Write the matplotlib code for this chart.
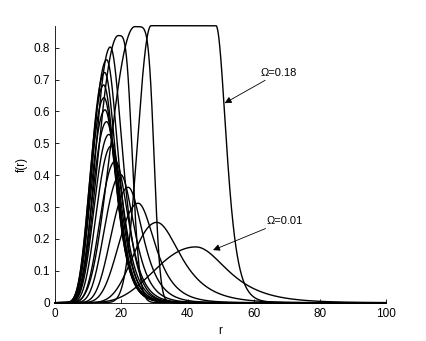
import numpy as np
import matplotlib
matplotlib.use('Agg')
import matplotlib.pyplot as plt

plt.rcParams['font.family'] = ['Liberation Sans', 'DejaVu Sans']

# Omega values of the family of profiles
omega = [0.01, 0.02, 0.03, 0.04, 0.05, 0.06, 0.07, 0.08, 0.09,
         0.10, 0.11, 0.12, 0.13, 0.14, 0.15, 0.16, 0.17, 0.18]
# peak height
peak_f = [0.175, 0.252, 0.312, 0.362, 0.402, 0.444, 0.492, 0.528, 0.568,
          0.605, 0.643, 0.683, 0.722, 0.762, 0.802, 0.838, 0.866, 0.869]
# r where the top starts / ends (equal for single peaks)
top_start = [42.5, 30.7, 25.1, 22.1, 19.8, 18.2, 17.0, 16.3, 15.6,
             15.1, 14.8, 14.7, 15.0, 15.6, 16.7, 19.1, 24.1, 29.0]
top_end = [42.5, 30.7, 25.1, 22.1, 19.8, 18.2, 17.0, 16.3, 15.6,
           15.1, 14.8, 14.7, 15.0, 15.6, 16.7, 19.1, 24.1, 48.6]
# half width at half maximum, left and right of the top
hw_left = [13.9, 8.0, 6.6, 5.8, 5.4, 5.2, 5.0, 4.9, 4.8,
           4.7, 4.6, 4.6, 4.7, 4.8, 5.0, 6.5, 8.0, 4.6]
hw_right = [11.2, 8.5, 6.0, 5.2, 4.8, 4.6, 4.4, 4.3, 4.2,
            4.2, 4.2, 4.2, 4.2, 4.2, 4.3, 4.4, 5.9, 3.6]
# decay shape of the right flank
tail_p = [1.0, 0.9, 1.0, 1.1, 1.2, 1.3, 1.4, 1.5, 1.5,
          1.5, 1.5, 1.5, 1.5, 1.5, 1.5, 1.0, 1.0, 1.5]
top_m = [1.0, 1.0, 1.0, 1.0, 1.0, 1.0, 1.0, 1.0, 1.0,
         1.0, 1.0, 1.0, 1.0, 1.0, 1.0, 2.0, 3.0, 1.0]

r = np.linspace(0, 100, 4001)


def profile(A, R1, R2, hl, hr, p, m):
    f = np.full_like(r, A)
    left = r < R1
    x = np.maximum(r[left] / R1, 1e-12)
    a = np.log(0.5) / (np.log(1 - hl / R1) + hl / R1)
    f[left] = A * np.exp(a * (np.log(x) + 1 - x))
    right = r > R2
    s = hr / np.arccosh(2 ** (1 / p)) ** (1 / m)
    f[right] = A / np.cosh(((r[right] - R2) / s) ** m) ** p
    return f


fig = plt.figure(figsize=(4.26, 3.41), dpi=100)
ax = fig.add_axes([55 / 426, 1 - 302.7 / 341, (386.3 - 55) / 426, (302.7 - 25.7) / 341])

for i in range(len(omega)):
    f = profile(peak_f[i], top_start[i], top_end[i], hw_left[i], hw_right[i],
                tail_p[i], top_m[i])
    ax.plot(r, f, color='black', lw=1.0, clip_on=False)

ax.set_xlim(0, 100)
ax.set_ylim(0, max(peak_f))
ax.set_xticks([0, 20, 40, 60, 80, 100])
ax.set_yticks([0, 0.1, 0.2, 0.3, 0.4, 0.5, 0.6, 0.7, 0.8])
ax.set_yticklabels(['0', '0.1', '0.2', '0.3', '0.4', '0.5', '0.6', '0.7', '0.8'])
ax.spines['top'].set_visible(False)
ax.spines['right'].set_visible(False)
ax.tick_params(direction='in', length=3, labelsize=8.5, width=0.6)
for s in ['left', 'bottom']:
    ax.spines[s].set_linewidth(0.6)
ax.set_xlabel('r', fontsize=8.5)
ax.set_ylabel('f(r)', fontsize=8.5)

ax.annotate('Ω=0.18', xy=(51.2, 0.626), xytext=(62.1, 0.722),
            fontsize=8, ha='left', va='center',
            arrowprops=dict(arrowstyle='-|>', color='black', lw=0.6,
                            mutation_scale=10, shrinkA=0, shrinkB=0))
ax.annotate('Ω=0.01', xy=(47.7, 0.165), xytext=(63.8, 0.257),
            fontsize=8, ha='left', va='center',
            arrowprops=dict(arrowstyle='-|>', color='black', lw=0.6,
                            mutation_scale=10, shrinkA=0, shrinkB=0))

fig.savefig('out.png', dpi=100)
